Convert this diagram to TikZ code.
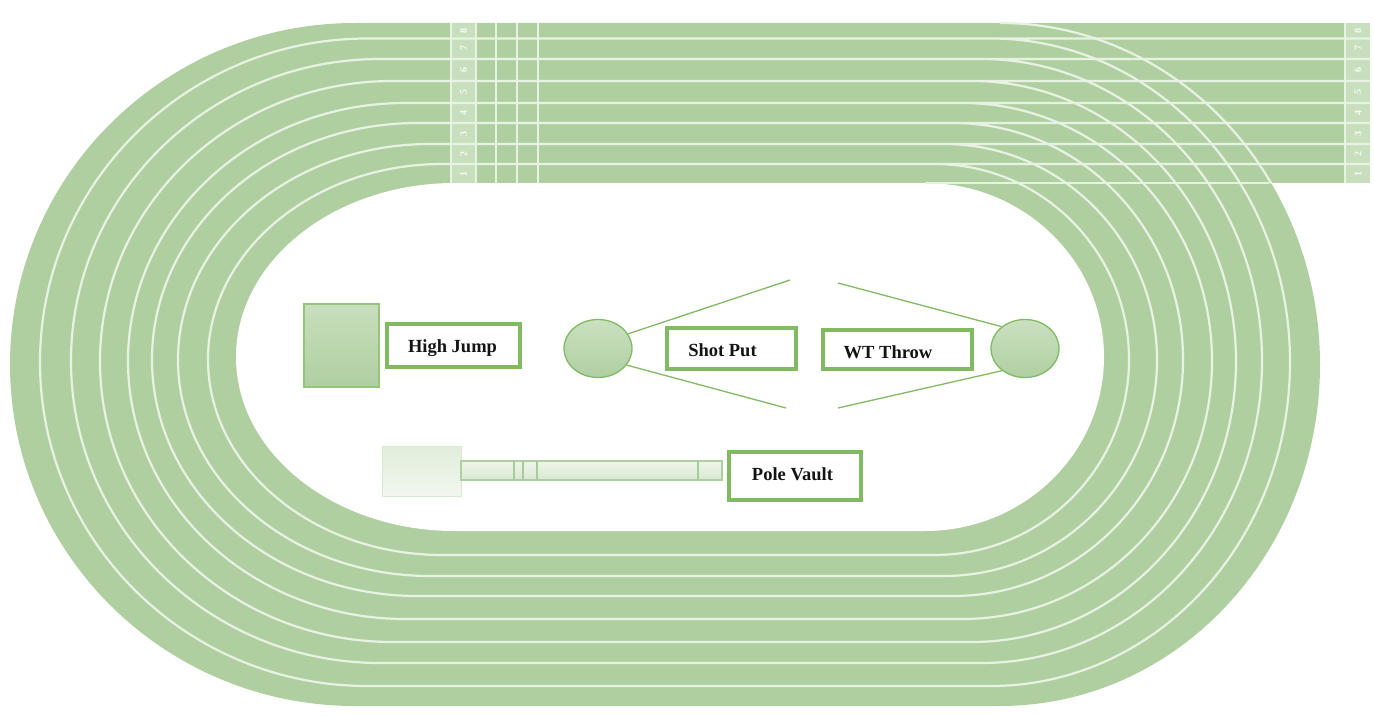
\documentclass[tikz,border=0pt]{standalone}
\usepackage{fontspec}
\setmainfont{Liberation Serif}
\usetikzlibrary{shapes.geometric}
\definecolor{turf}{RGB}{175,207,161}
\definecolor{lane}{RGB}{232,242,226}
\definecolor{band}{RGB}{200,223,189}
\definecolor{edge}{RGB}{130,186,100}
\tikzset{
  laneline/.style={draw=lane,line width=2.2pt},
  labelbox/.style={draw=edge,line width=3.4pt,fill=white,inner sep=0pt},
  labeltext/.style={font=\fontsize{18.5}{20}\selectfont\bfseries,inner sep=0pt,text=black!92},
  throwcircle/.style={ellipse,draw=edge,line width=1.3pt,top color=band!95!white,bottom color=turf,minimum width=68pt,minimum height=58pt,inner sep=0pt},
  sectorline/.style={draw=edge,line width=1.3pt},
  lanenum/.style={font=\fontsize{10}{10}\selectfont\bfseries,text=white!90!band,rotate=90,inner sep=0pt}
}
\begin{document}
\begin{tikzpicture}[x=1pt,y=1pt,yscale=-1]
\useasboundingbox (0,0) rectangle (1374,717);
% outer turf and infield
\fill[turf] (355,23) arc[start angle=270,end angle=90,x radius=345pt,y radius=341.5pt]
  -- (1000,706) arc[start angle=90,end angle=-90,x radius=320pt,y radius=341.5pt] -- cycle;
\fill[white] (455,183) arc[start angle=270,end angle=90,x radius=219pt,y radius=174pt]
  -- (925,531) arc[start angle=90,end angle=-90,x radius=179pt,y radius=174pt] -- cycle;
% straight
\fill[turf] (440,23) rectangle (1345,182.5);
\fill[band] (1345,23) rectangle (1370,182.5);
\fill[band] (451,23) rectangle (476,182.5);
% lane lines
\foreach \t/\b/\l/\r [count=\i] in {38.5/686/40/1290,59/663/71/1262,81/642/100/1236,103/619/128/1212,123/596/152/1183,144/576/178/1157,164/555/208/1129}{
  \pgfmathsetmacro{\cl}{355+\i*100/8}
  \pgfmathsetmacro{\cr}{1000-\i*75/8}
  \pgfmathsetmacro{\cy}{(\t+\b)/2}
  \pgfmathsetmacro{\ry}{(\b-\t)/2}
  \pgfmathsetmacro{\rl}{\cl-\l}
  \pgfmathsetmacro{\rr}{\r-\cr}
  \draw[laneline] (1370,\t) -- (\cl,\t) arc[start angle=270,end angle=90,x radius=\rl pt,y radius=\ry pt]
    -- (\cr,\b) arc[start angle=90,end angle=-90,x radius=\rr pt,y radius=\ry pt];
}
% edge arc over the straight and inner edge line
\draw[laneline] (1000,23) arc[start angle=270,end angle=328,x radius=320pt,y radius=341.5pt];
\draw[laneline] (925,183) -- (1269,183);
% vertical marks
\foreach \x in {451,476,496,517,538}{
  \draw[draw=lane,line width=2.6pt] (\x,23) -- (\x,182.5);
}
\draw[draw=lane,line width=1.2pt] (1345,23) -- (1345,182.5);
% lane numbers
\foreach \n/\y in {8/31,7/48.5,6/70,5/92,4/113,3/133.5,2/154,1/173.5}{
  \node[lanenum] (ln\n) at (463.5,\y) {\n};
  \node[lanenum] (rn\n) at (1358,\y) {\n};
}
% high jump
\node[draw=edge!85!white,line width=1.6pt,top color=band,bottom color=turf,minimum width=75pt,minimum height=83pt,inner sep=0pt] (hj) at (341.5,345.5) {};
\node[labelbox,minimum width=133pt,minimum height=43pt] (hjbox) at (453.5,345.5) {};
\node[labeltext] (hjtext) at (452.5,348) {High Jump};
% shot put
\node[throwcircle] (sp) at (598,348.5) {};
\coordinate (spa) at (790,280);
\coordinate (spb) at (786,408);
\draw[sectorline] (sp.26) -- (spa);
\draw[sectorline] (sp.330) -- (spb);
\node[labelbox,minimum width=129pt,minimum height=41pt] (spbox) at (731.5,348.5) {};
\node[labeltext] (sptext) at (722.5,350) {Shot Put};
% weight throw
\node[throwcircle] (wt) at (1025,348.5) {};
\coordinate (wta) at (838,283);
\coordinate (wtb) at (838,408);
\draw[sectorline] (wt.137) -- (wta);
\draw[sectorline] (wt.224) -- (wtb);
\node[labelbox,minimum width=149pt,minimum height=39pt] (wtbox) at (897.5,349.5) {};
\node[labeltext] (wttext) at (888,352.5) {WT Throw};
% pole vault
\node[draw=band!70!white,line width=1pt,top color=band!55!white,bottom color=band!25!white,minimum width=79pt,minimum height=50pt,inner sep=0pt] (pvpit) at (421.5,471) {};
\node[draw=turf,line width=1.2pt,top color=band!30!white,bottom color=band!70!white,minimum width=261pt,minimum height=19pt,inner sep=0pt] (pvrun) at (591.5,470.5) {};
\foreach \x in {514,523,537,698}{
  \draw[draw=turf!85!edge,line width=1.1pt] (\x,461) -- (\x,480);
}
\node[labelbox,minimum width=132pt,minimum height=48pt] (pvbox) at (795,476) {};
\node[labeltext] (pvtext) at (792.5,474.5) {Pole Vault};
\end{tikzpicture}
\end{document}
